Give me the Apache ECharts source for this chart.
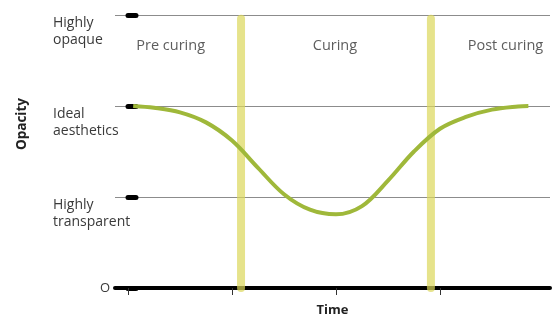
<!DOCTYPE html>
<html>
<head>
<meta charset="utf-8">
<script src="https://cdn.jsdelivr.net/npm/echarts@6/dist/echarts.min.js"></script>
<style>
html, body { margin: 0; padding: 0; background: #fff; }
#main { width: 558px; height: 316px; }
</style>
</head>
<body>
<div id="main"></div>
<script>
// opacity curve, time in tick units (ticks at 0..3), opacity level 0..3
var timeVals = [0.05, 0.25, 0.5, 0.75, 1.0, 1.25, 1.5, 1.75, 2.0, 2.25, 2.5, 2.75, 3.0, 3.25, 3.5, 3.75, 3.85];
var opacityVals = [2.0, 1.98, 1.93, 1.82, 1.62, 1.32, 1.03, 0.86, 0.81, 0.9, 1.18, 1.5, 1.75, 1.88, 1.96, 1.995, 2.0];

var levelVals = [1, 2, 3];
var levelNames = ['Highly\ntransparent', 'Ideal\naesthetics', 'Highly\nopaque'];
var xTicks = [0, 1, 2, 3];

// phase separators and labels
var phaseBounds = [1.087, 2.913];
var phaseNames = ['Pre curing', 'Curing', 'Post curing'];
var phaseX = [0.41, 1.99, 3.63];
var phaseY = 2.66;

var font = 'Open Sans';

var curve = [];
for (var i = 0; i < timeVals.length; i++) {
    curve.push([timeVals[i], opacityVals[i]]);
}

var series = [];
// yellow bars at the phase bounds
phaseBounds.forEach(function(b) {
    series.push({
	type : 'line',
	data : [ [ b, 0 ], [ b, 2.96 ] ],
	symbol : 'none',
	silent : true,
	z : 1,
	lineStyle : {
	    color : 'rgba(220,215,90,0.7)',
	    width : 8,
	    cap : 'round'
	}
    });
});
series.push({
    type : 'line',
    data : curve,
    smooth : 0.35,
    symbol : 'none',
    z : 3,
    lineStyle : {
	color : '#9fb83a',
	width : 4
    }
});
series.push({
    type : 'scatter',
    symbolSize : 0,
    data : phaseX.map(function(x, i) {
	return {
	    value : [ x, phaseY ],
	    name : phaseNames[i]
	};
    }),
    label : {
	show : true,
	position : 'inside',
	formatter : '{b}',
	color : '#333',
	fontFamily : font,
	fontSize : 14.5
    }
});

var myChart = echarts.init(document.getElementById('main'));
myChart.setOption({
    animation : false,
    grid : {
	left : 115,
	right : 8,
	top : 15,
	bottom : 28,
	outerBoundsMode : 'none',
	containLabel : false
    },
    xAxis : {
	type : 'value',
	min : -0.125,
	max : 4.058,
	name : 'Time',
	nameLocation : 'middle',
	nameGap : 16,
	nameTextStyle : {
	    fontFamily : font,
	    fontWeight : 'bold',
	    fontSize : 13,
	    color : '#222'
	},
	axisLine : {
	    lineStyle : {
		color : '#000',
		width : 4,
		cap : 'round'
	    }
	},
	axisTick : {
	    customValues : xTicks,
	    length : 7,
	    lineStyle : {
		color : '#333',
		width : 1
	    }
	},
	axisLabel : {
	    show : false
	},
	splitLine : {
	    show : false
	}
    },
    yAxis : [ {
	type : 'value',
	min : 0,
	max : 3,
	interval : 1,
	axisLine : {
	    show : false
	},
	axisTick : {
	    show : true,
	    inside : true,
	    length : 8,
	    lineStyle : {
		color : '#000',
		width : 5,
		cap : 'round'
	    }
	},
	axisLabel : {
	    customValues : levelVals,
	    margin : 62,
	    align : 'left',
	    verticalAlign : 'top',
	    lineHeight : 17,
	    color : '#3a3a3a',
	    fontFamily : font,
	    fontSize : 14,
	    formatter : function(v) {
		return levelNames[levelVals.indexOf(v)];
	    }
	},
	splitLine : {
	    lineStyle : {
		color : '#8c8c8c',
		width : 1.2
	    }
	}
    }, {
	type : 'value',
	min : 0,
	max : 3,
	position : 'left',
	axisLine : {
	    show : false
	},
	axisTick : {
	    show : false
	},
	splitLine : {
	    show : false
	},
	axisLabel : {
	    customValues : [ 0 ],
	    margin : 5,
	    color : '#3a3a3a',
	    fontFamily : font,
	    fontSize : 13,
	    padding : [ 0, 0, 6, 0 ],
	    formatter : function() {
		return 'O';
	    }
	}
    } ],
    graphic : [ {
	type : 'text',
	left : 15,
	top : 98,
	rotation : Math.PI / 2,
	style : {
	    text : 'Opacity',
	    fontFamily : font,
	    fontWeight : 'bold',
	    fontSize : 13.5,
	    fill : '#222'
	}
    } ],
    series : series
});
</script>
</body>
</html>
